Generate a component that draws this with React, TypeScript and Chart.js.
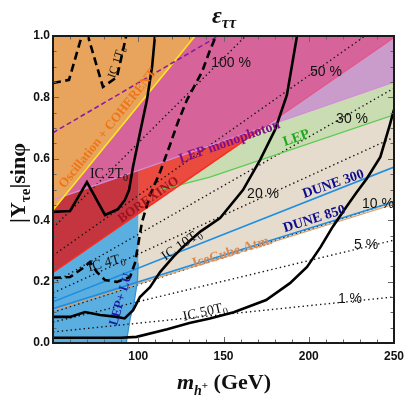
import React, { useEffect, useRef } from "react";
import { Chart, registerables } from "chart.js";

Chart.register(...registerables);

type P = [number, number];

const SERIF = '"Liberation Serif", "DejaVu Serif", serif';
const SANS = '"Liberation Sans", Arial, sans-serif';

const X_MIN = 50;
const X_MAX = 250;
const Y_MIN = 0;
const Y_MAX = 1;
const xTickLabels = [100, 150, 200, 250];
const yTickLabels = [0, 0.2, 0.4, 0.6, 0.8, 1.0];

// exclusion / sensitivity boundaries (m_h+ in GeV, |Y| sin(phi))
const oscCoherentEdge: P[] = [[50, 0.433], [133.3, 1.0]];
const lepMonophotonEdge: P[] = [[50, 0.466], [250, 0.85]];
const borexinoEdge: P[] = [[50, 0.23], [250, 0.995]];
const lepEdge: P[] = [[113, 0.5], [125, 0.516], [142, 0.54], [250, 0.743]];
const iceCubeAtmEdge: P[] = [[50, 0.106], [250, 0.452]];
const dune300: P[] = [[50, 0.134], [250, 0.573]];
const dune850: P[] = [[50, 0.112], [250, 0.46]];
const lepLuEdge: P[] = [[93, 0], [93.8, 0.03], [95.3, 0.08], [97.5, 0.13], [99.5, 0.2], [100, 0.26], [100, 1.0]];
const purpleDashed: P[] = [[50, 0.685], [147, 1.0]];

// IceCube exposure curves
const ic1T0: P[] = [[50, 0.847], [59.4, 0.857], [65.8, 0.98], [67, 1.0], [68, 1.04], [70, 1.04], [70.5, 1.0], [79.3, 0.834], [87.5, 0.866], [92.8, 0.997], [93, 1.03]];
const ic2T0: P[] = [[50, 0.427], [60, 0.43], [69.9, 0.524], [80.5, 0.417], [88.1, 0.436], [92.2, 0.466], [94.6, 0.498], [96.9, 0.573], [101, 0.684], [105.1, 0.792], [108.1, 0.899], [109.8, 1.0], [110.5, 1.05]];
const ic4T0: P[] = [[50, 0.212], [60, 0.215], [67.6, 0.244], [71.7, 0.264], [75.8, 0.231], [80.5, 0.205], [87.5, 0.199], [95.2, 0.215], [98.1, 0.261], [99.9, 0.319], [102.2, 0.394], [106.9, 0.482], [112.8, 0.557], [118.6, 0.645], [123.3, 0.72], [128.6, 0.792], [137.4, 0.883], [142.1, 0.954], [145.6, 1.0], [147, 1.05]];
const ic10T0: P[] = [[50, 0.085], [60, 0.085], [68.8, 0.101], [77.6, 0.091], [87.5, 0.085], [92, 0.08], [97, 0.107], [101, 0.15], [106.9, 0.182], [112.8, 0.231], [120.4, 0.28], [126.2, 0.313], [136.2, 0.362], [148, 0.407], [161.4, 0.498], [171.4, 0.596], [180.2, 0.694], [187.2, 0.808], [193.1, 1.0], [194, 1.05]];
const ic50T0: P[] = [[50, 0.017], [90, 0.017], [99, 0.02], [117, 0.045], [130, 0.065], [142, 0.08], [156, 0.1], [175, 0.14], [189, 0.195], [199, 0.248], [207, 0.313], [214, 0.378], [222, 0.443], [228, 0.49], [234, 0.535], [242, 0.606], [247.5, 0.71], [250, 0.76]];

// dotted iso-epsilon lines
const eps1: P[] = [[50, 0.036], [250, 0.15]];
const eps5: P[] = [[50, 0.068], [250, 0.335]];
const eps10: P[] = [[50, 0.1], [250, 0.46]];
const eps20: P[] = [[50, 0.163], [250, 0.67]];
const eps30: P[] = [[50, 0.195], [250, 0.83]];
const eps50: P[] = [[50, 0.285], [233, 1.0]];
const eps100: P[] = [[50, 0.375], [163, 1.0]];

type Seg = { t: string; scale?: number; dy?: number; italic?: boolean };
type Label = { segs: Seg[]; at: P; angle: number; size: number; color: string; bold: boolean; family: string };

const T0 = (pre: string): Seg[] => [{ t: pre + "T" }, { t: "0", scale: 0.68, dy: 0.22 }];

const labels: Label[] = [
  { segs: [{ t: "Oscillation + COHERENT" }], at: [81.7, 0.7], angle: -51.5, size: 13, color: "#EE7418", bold: true, family: SERIF },
  { segs: [{ t: "LEP monophoton" }], at: [153.3, 0.658], angle: -19.5, size: 14, color: "#800E8E", bold: true, family: SERIF },
  { segs: [{ t: "LEP" }], at: [192.5, 0.671], angle: -19, size: 14, color: "#1FA81F", bold: true, family: SERIF },
  { segs: [{ t: "BOREXINO" }], at: [105.7, 0.469], angle: -35, size: 13, color: "#A0121E", bold: true, family: SERIF },
  { segs: [{ t: "IceCube Atm." }], at: [155, 0.3], angle: -17, size: 14, color: "#D98A55", bold: true, family: SERIF },
  { segs: [{ t: "DUNE 300" }], at: [214.2, 0.521], angle: -19, size: 14, color: "#0D0D8A", bold: true, family: SERIF },
  { segs: [{ t: "DUNE 850" }], at: [203.1, 0.407], angle: -17.5, size: 14, color: "#0D0D8A", bold: true, family: SERIF },
  { segs: [{ t: "LEP+ LU" }], at: [89.3, 0.143], angle: -74, size: 13, color: "#1A1AA0", bold: true, family: SERIF },
  { segs: T0("IC 1"), at: [86.9, 0.915], angle: -72, size: 12, color: "#111", bold: false, family: SERIF },
  { segs: T0("IC 2"), at: [82.8, 0.554], angle: 0, size: 14, color: "#111", bold: false, family: SERIF },
  { segs: T0("IC 4"), at: [81.1, 0.264], angle: -15, size: 14, color: "#111", bold: false, family: SERIF },
  { segs: T0("IC 10"), at: [125.1, 0.322], angle: -35, size: 14, color: "#111", bold: false, family: SERIF },
  { segs: T0("IC 50"), at: [139.1, 0.104], angle: -13, size: 14, color: "#111", bold: false, family: SERIF },
  { segs: [{ t: "100 %" }], at: [154.4, 0.915], angle: 0, size: 14, color: "#111", bold: false, family: SANS },
  { segs: [{ t: "50 %" }], at: [210.1, 0.886], angle: 0, size: 14, color: "#111", bold: false, family: SANS },
  { segs: [{ t: "30 %" }], at: [225.4, 0.733], angle: 0, size: 14, color: "#111", bold: false, family: SANS },
  { segs: [{ t: "20 %" }], at: [173.2, 0.489], angle: 0, size: 14, color: "#111", bold: false, family: SANS },
  { segs: [{ t: "10 %" }], at: [240.6, 0.456], angle: 0, size: 14, color: "#111", bold: false, family: SANS },
  { segs: [{ t: "5 %" }], at: [233.6, 0.322], angle: 0, size: 14, color: "#111", bold: false, family: SANS },
  { segs: [{ t: "1 %" }], at: [224.2, 0.147], angle: 0, size: 14, color: "#111", bold: false, family: SANS },
];

function yAt(line: P[], x: number): number {
  for (let i = 0; i < line.length - 1; i++) {
    const [x0, y0] = line[i];
    const [x1, y1] = line[i + 1];
    if (x >= x0 && x <= x1) return y0 + ((y1 - y0) * (x - x0)) / (x1 - x0);
  }
  return line[line.length - 1][1];
}

function intersect(a: P[], b: P[]): P {
  const [[ax0, ay0], [ax1, ay1]] = a;
  const [[bx0, by0], [bx1, by1]] = b;
  const sa = (ay1 - ay0) / (ax1 - ax0);
  const sb = (by1 - by0) / (bx1 - bx0);
  const x = (by0 - sb * bx0 - (ay0 - sa * ax0)) / (sa - sb);
  return [x, ay0 + sa * (x - ax0)];
}

const pts = (a: P[]) => a.map(([x, y]) => ({ x, y }));

function drawRich(ctx: CanvasRenderingContext2D, segs: Seg[], cx: number, cy: number, angleDeg: number, size: number, color: string, bold: boolean, family: string, italicAll = false) {
  ctx.save();
  ctx.translate(cx, cy);
  ctx.rotate((angleDeg * Math.PI) / 180);
  ctx.fillStyle = color;
  ctx.textBaseline = "alphabetic";
  ctx.textAlign = "left";
  const fontFor = (s: Seg) => `${s.italic || italicAll ? "italic " : ""}${bold ? "bold " : ""}${Math.round(size * (s.scale ?? 1))}px ${family}`;
  let total = 0;
  const widths = segs.map((s) => {
    ctx.font = fontFor(s);
    const w = ctx.measureText(s.t).width;
    total += w;
    return w;
  });
  let xx = -total / 2;
  const base = size * 0.34;
  segs.forEach((s, i) => {
    ctx.font = fontFor(s);
    ctx.fillText(s.t, xx, base + (s.dy ?? 0) * size);
    xx += widths[i];
  });
  ctx.restore();
}

const overlay = {
  id: "overlay",
  afterDatasetsDraw(chart: any) {
    const { ctx, chartArea: a, scales } = chart;
    const xs = scales.x;
    const ys = scales.y;
    for (const l of labels) {
      drawRich(ctx, l.segs, xs.getPixelForValue(l.at[0]), ys.getPixelForValue(l.at[1]), l.angle, l.size, l.color, l.bold, l.family);
    }
    ctx.save();
    ctx.strokeStyle = "#666";
    ctx.lineWidth = 1;
    ctx.beginPath();
    for (let v = X_MIN; v <= X_MAX; v += 10) {
      const px = Math.round(xs.getPixelForValue(v)) + 0.5;
      const len = v % 50 === 0 ? 6 : 3.5;
      ctx.moveTo(px, a.bottom);
      ctx.lineTo(px, a.bottom - len);
      ctx.moveTo(px, a.top);
      ctx.lineTo(px, a.top + len);
    }
    for (let k = 0; k <= 20; k++) {
      const v = k * 0.05;
      const py = Math.round(ys.getPixelForValue(v)) + 0.5;
      const len = k % 4 === 0 ? 6 : 3.5;
      ctx.moveTo(a.left, py);
      ctx.lineTo(a.left + len, py);
      ctx.moveTo(a.right, py);
      ctx.lineTo(a.right - len, py);
    }
    ctx.stroke();
    ctx.strokeStyle = "#1a1a1a";
    ctx.lineWidth = 2;
    ctx.strokeRect(a.left, a.top, a.right - a.left, a.bottom - a.top);
    ctx.restore();

    drawRich(ctx, [{ t: "ε", scale: 1 }, { t: "ττ", scale: 0.68, dy: 0.22 }], 224, 15, 0, 24, "#111", true, SERIF, true);
    drawRich(ctx, [{ t: "|Y" }, { t: "τe", scale: 0.68, dy: 0.22 }, { t: "|sinφ" }], 18, 183, -90, 22, "#111", true, SERIF);
    drawRich(
      ctx,
      [
        { t: "m", italic: true },
        { t: "h", italic: true, scale: 0.64, dy: 0.24 },
        { t: "+", scale: 0.5, dy: -0.02 },
        { t: " (GeV)" },
      ],
      224,
      382,
      0,
      22,
      "#111",
      true,
      SERIF
    );
  },
};

function polygon(label: string, points: P[], color: string) {
  return {
    label,
    data: pts(points),
    borderWidth: 0,
    borderColor: "rgba(0,0,0,0)",
    backgroundColor: color,
    fill: "shape",
    pointRadius: 0,
  };
}

function line(label: string, points: P[], color: string, width: number, dash: number[] = []) {
  return {
    label,
    data: pts(points),
    borderWidth: width,
    borderColor: color,
    borderDash: dash,
    fill: false,
    pointRadius: 0,
  };
}

export default function App() {
  const ref = useRef<HTMLCanvasElement | null>(null);

  useEffect(() => {
    document.body.style.margin = "0";
    const canvas = ref.current;
    if (!canvas) return;

    const top: P[] = [[X_MAX, Y_MAX], [X_MIN, Y_MAX]];
    const borLav = intersect(borexinoEdge, lepMonophotonEdge);
    const borAt100 = yAt(borexinoEdge, 100);

    const layers: any[] = [];
    const add = (d: any) => layers.push(d);
    // fills, bottom first
    add(polygon("IceCube Atm.", [...iceCubeAtmEdge, ...top], "#E6DCCE"));
    add(polygon("LEP", [[lepEdge[0][0], Y_MAX], ...lepEdge, [X_MAX, Y_MAX]], "#CADDB2"));
    add(polygon("LEP monophoton", [...lepMonophotonEdge, ...top], "#C99CCB"));
    add(polygon("BOREXINO", [...borexinoEdge, ...top], "#EB4A3F"));
    add(polygon("LEP+ LU", [...lepLuEdge, [X_MIN, Y_MAX], [X_MIN, Y_MIN]], "#5BAEE0"));
    add(polygon("BOREXINO over LEP+LU", [borexinoEdge[0], [100, borAt100], [100, Y_MAX], [X_MIN, Y_MAX]], "#C5353F"));
    add(polygon("BOREXINO and monophoton", [lepMonophotonEdge[0], borLav, borexinoEdge[1], ...top], "#D6649A"));
    // dotted iso-epsilon lines (hidden under the oscillation region)
    for (const e of [eps1, eps5, eps10, eps20, eps30, eps50, eps100]) {
      add(line("eps", e, "#151515", 1.4, [1.4, 3]));
    }
    add(polygon("Oscillation + COHERENT", [...oscCoherentEdge, [X_MIN, Y_MAX]], "#E8A45C"));
    // boundary lines
    add(line("IceCube edge", iceCubeAtmEdge, "#D8A070", 1.2));
    add(line("DUNE 850", dune850, "#1E8FE0", 1.6));
    add(line("DUNE 300", dune300, "#1E8FE0", 1.6));
    add(line("LEP edge", lepEdge, "#5CCB55", 1.3));
    add(line("monophoton edge", lepMonophotonEdge, "#D68CD8", 1.3));
    add(line("BOREXINO edge", [borexinoEdge[0], borLav], "#FF2A1C", 1.6));
    add(line("BOREXINO edge 2", [borLav, borexinoEdge[1]], "#E5558A", 1.2));
    add(line("LEP+LU edge", lepLuEdge.slice(0, 6), "#2F8FD8", 1.2));
    add(line("Osc edge", oscCoherentEdge, "#FFE81A", 1.6));
    add(line("purple dashed", purpleDashed, "#8A1C9E", 1.6, [5, 3]));
    add(line("IC 50T0", ic50T0, "#000", 2.6));
    add(line("IC 10T0", ic10T0, "#000", 2.6));
    add(line("IC 4T0", ic4T0, "#000", 2.6, [8, 4.5]));
    add(line("IC 2T0", ic2T0, "#000", 2.6));
    add(line("IC 1T0", ic1T0, "#000", 2.6, [8, 4.5]));
    layers.forEach((d, i) => (d.order = layers.length - i));

    const chart = new Chart(canvas, {
      type: "line",
      data: { datasets: layers },
      options: {
        animation: false,
        responsive: false,
        maintainAspectRatio: false,
        layout: { padding: { top: 36, right: 13, left: 0, bottom: 0 } },
        elements: { line: { tension: 0 }, point: { radius: 0 } },
        plugins: {
          legend: { display: false },
          tooltip: { enabled: false },
          title: { display: false },
        },
        scales: {
          x: {
            type: "linear",
            min: X_MIN,
            max: X_MAX,
            grid: { display: false, drawTicks: false },
            border: { display: false },
            afterFit: (s: any) => {
              s.height = 53;
              s.paddingLeft = 0;
              s.paddingRight = 0;
            },
            ticks: {
              stepSize: 50,
              padding: 6,
              autoSkip: false,
              maxRotation: 0,
              color: "#111",
              font: { family: SANS, size: 12, weight: "bold" },
              callback: (v: any) => (xTickLabels.includes(Number(v)) ? String(v) : ""),
            },
          },
          y: {
            type: "linear",
            min: Y_MIN,
            max: Y_MAX,
            grid: { display: false, drawTicks: false },
            border: { display: false },
            afterFit: (s: any) => {
              s.width = 53;
              s.paddingTop = 0;
              s.paddingBottom = 0;
            },
            ticks: {
              stepSize: 0.2,
              padding: 3,
              color: "#111",
              font: { family: SANS, size: 12, weight: "bold" },
              callback: (v: any) => {
                const n = Number(v);
                return yTickLabels.some((t) => Math.abs(t - n) < 1e-6) ? n.toFixed(1) : "";
              },
            },
          },
        },
      } as any,
      plugins: [overlay as any],
    });
    return () => chart.destroy();
  }, []);

  return (
    <div style={{ width: 407, height: 396 }}>
      <canvas ref={ref} width={407} height={396} style={{ display: "block", width: 407, height: 396 }} />
    </div>
  );
}
